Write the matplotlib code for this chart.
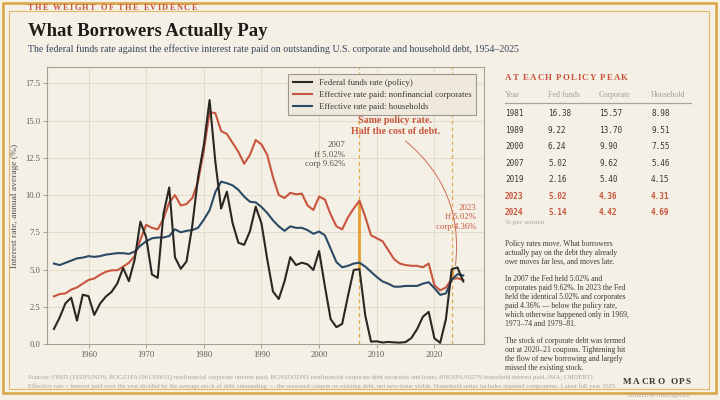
import matplotlib
matplotlib.use("Agg")
import matplotlib.pyplot as plt
from matplotlib.lines import Line2D
from matplotlib.patches import Rectangle

# ---------------- data ----------------
years = list(range(1954, 2026))
fed_funds = [1.01, 1.78, 2.73, 3.11, 1.57, 3.31, 3.21, 1.95, 2.71, 3.18,
             3.50, 4.07, 5.11, 4.22, 5.66, 8.21, 7.17, 4.67, 4.44, 8.74,
             10.51, 5.82, 5.05, 5.54, 7.94, 11.20, 13.35, 16.38, 12.24, 9.09,
             10.23, 8.10, 6.80, 6.66, 7.57, 9.22, 8.10, 5.69, 3.52, 3.02,
             4.21, 5.83, 5.30, 5.46, 5.35, 4.97, 6.24, 3.88, 1.67, 1.13,
             1.35, 3.22, 4.97, 5.02, 1.92, 0.16, 0.18, 0.10, 0.14, 0.11,
             0.09, 0.13, 0.40, 1.00, 1.83, 2.16, 0.38, 0.08, 1.68, 5.02,
             5.14, 4.20]
corporate = [3.20, 3.35, 3.40, 3.65, 3.80, 4.05, 4.30, 4.40, 4.65, 4.85,
             4.95, 4.95, 5.20, 5.45, 5.90, 7.00, 8.00, 7.80, 7.70, 8.40,
             9.50, 10.00, 9.30, 9.40, 9.80, 10.90, 13.00, 15.57, 15.50, 14.30,
             14.10, 13.50, 12.90, 12.10, 12.70, 13.70, 13.40, 12.70, 11.20, 10.00,
             9.80, 10.15, 10.05, 10.10, 9.30, 9.00, 9.90, 9.70, 8.70, 7.90,
             7.70, 8.50, 9.10, 9.62, 8.55, 7.30, 7.10, 6.90, 6.30, 5.70,
             5.40, 5.30, 5.25, 5.25, 5.15, 5.40, 3.95, 3.60, 3.80, 4.36,
             4.42, 4.30]
household = [5.40, 5.30, 5.45, 5.60, 5.75, 5.80, 5.90, 5.85, 5.90, 6.00,
             6.05, 6.10, 6.10, 6.05, 6.20, 6.60, 6.90, 7.10, 7.15, 7.15,
             7.25, 7.70, 7.50, 7.60, 7.65, 7.80, 8.35, 8.98, 10.20, 10.90,
             10.80, 10.65, 10.35, 9.90, 9.55, 9.51, 9.20, 8.80, 8.30, 7.90,
             7.60, 7.90, 7.80, 7.80, 7.65, 7.40, 7.55, 7.30, 6.40, 5.50,
             5.15, 5.25, 5.40, 5.46, 5.20, 4.85, 4.50, 4.20, 4.05, 3.85,
             3.85, 3.90, 3.90, 3.90, 4.05, 4.15, 3.75, 3.30, 3.40, 4.31,
             4.69, 4.60]

series_labels = ["Federal funds rate (policy)",
                 "Effective rate paid: nonfinancial corporates",
                 "Effective rate paid: households"]

peak_years = ["1981", "1989", "2000", "2007", "2019", "2023", "2024"]
peak_ff = ["16.38", "9.22", "6.24", "5.02", "2.16", "5.02", "5.14"]
peak_corp = ["15.57", "13.70", "9.90", "9.62", "5.40", "4.36", "4.42"]
peak_hh = ["8.98", "9.51", "7.55", "5.46", "4.15", "4.31", "4.69"]
table_headers = ["Year", "Fed funds", "Corporate", "Household"]

mark_2007 = 2007
mark_2023 = 2023

# ---------------- style ----------------
BG = "#f4f0e6"
GOLD = "#d9a441"
RED = "#c8553d"
BLUE = "#2b4a66"
BLACK = "#2a2622"
SERIF = ["Liberation Serif", "DejaVu Serif"]
MONO = ["DejaVu Sans Mono"]

plt.rcParams["font.family"] = SERIF

W, H = 720, 400
fig = plt.figure(figsize=(7.2, 4.0), dpi=100, facecolor=BG)

def fx(px):
    return px / W

def fy(py):
    return 1 - py / H

# borders
fig.patches.append(Rectangle((fx(3), fy(393)), fx(713), (393 - 3) / H,
                             transform=fig.transFigure, fill=False,
                             edgecolor=GOLD, lw=1.8, zorder=0))
fig.patches.append(Rectangle((fx(9), fy(388.5)), fx(700), (388.5 - 10.5) / H,
                             transform=fig.transFigure, fill=False,
                             edgecolor="#e3b868", lw=0.8, zorder=0))

renderer = fig.canvas.get_renderer()

def tracked(px0, px1, py, s, size, color, weight="bold", family=SERIF, box=False):
    # place characters so the string spans px0..px1
    chars = []
    widths = []
    for ch in s:
        if ch == " ":
            chars.append(None)
            widths.append(size * 0.25 * 100 / 72)
            continue
        t = fig.text(0, 0, ch, fontsize=size, color=color, weight=weight,
                     family=family, va="center", ha="left", zorder=5)
        widths.append(t.get_window_extent(renderer).width)
        chars.append(t)
    natural = sum(widths)
    gap = (px1 - px0 - natural) / max(len(s) - 1, 1)
    cur = px0
    for t, w in zip(chars, widths):
        if t is not None:
            t.set_position((fx(cur), fy(py)))
        cur += w + gap

tracked(28, 197, 7.8, "THE WEIGHT OF THE EVIDENCE", 6.0, RED)

fig.text(fx(28), fy(35.5), "What Borrowers Actually Pay", fontsize=13.4,
         weight="bold", color="#1f1c19", va="baseline")
fig.text(fx(28), fy(52.5), "The federal funds rate against the effective interest rate paid on "
         "outstanding U.S. corporate and household debt, 1954\u20132025",
         fontsize=7.1, color="#36435a", va="baseline")

# ---------------- main axes ----------------
ax = fig.add_axes([fx(47), fy(344), fx(484) - fx(47), fy(67) - fy(344)])
ax.set_facecolor(BG)

ax.plot(years, fed_funds, color=BLACK, lw=1.5, label=series_labels[0], zorder=5)
ax.plot(years, corporate, color=RED, lw=1.5, label=series_labels[1], zorder=4)
ax.plot(years, household, color=BLUE, lw=1.5, label=series_labels[2], zorder=4)

i07 = years.index(mark_2007)
i23 = years.index(mark_2023)
for yr in (mark_2007, mark_2023):
    ax.axvline(yr, color="#e2a84a", lw=0.9, ls=(0, (3, 2.5)), zorder=2)
ax.vlines(mark_2007, fed_funds[i07], corporate[i07], color="#e3a033", lw=2.0, zorder=3)
ax.vlines(mark_2023, corporate[i23], fed_funds[i23], color="#e3a033", lw=2.0, zorder=3)

ax.set_xlim(1952.8, 2028.6)
ax.set_ylim(0, 18.6)
ax.set_xticks([1960, 1970, 1980, 1990, 2000, 2010, 2020])
ax.set_yticks([0, 2.5, 5, 7.5, 10, 12.5, 15, 17.5])
ax.grid(True, color="#e3dccb", lw=0.7, zorder=0)
ax.set_axisbelow(True)
for sp in ax.spines.values():
    sp.set_color("#a7a194")
    sp.set_linewidth(0.8)
ax.tick_params(axis="both", labelsize=6.2, colors="#a7a194", labelcolor="#625d55",
               length=3, width=0.7, pad=2)
ax.set_ylabel("Interest rate, annual average (%)", fontsize=6.8, color="#55504a",
              labelpad=4)

leg = ax.legend(loc="upper right", fontsize=6.3, frameon=True, facecolor="#efe9dd",
                edgecolor="#9d978c", framealpha=1.0, fancybox=False,
                borderpad=0.5, handlelength=2.2, labelspacing=0.45,
                bbox_to_anchor=(0.992, 0.99))
leg.get_frame().set_linewidth(0.8)
for txt in leg.get_texts():
    txt.set_color("#3b3833")

ax.text(2004.5, 12.7, "2007\nff 5.02%\ncorp 9.62%", ha="right", va="center",
        fontsize=6.3, color="#55504a", linespacing=1.25)
ax.text(2027.2, 8.5, "2023\nff 5.02%\ncorp 4.36%", ha="right", va="center",
        fontsize=6.3, color=RED, linespacing=1.25)
ax.text(2013.2, 14.65, "Same policy rate.\nHalf the cost of debt.", ha="center",
        va="center", fontsize=7.2, color=RED, weight="bold", linespacing=1.2)
ax.annotate("", xy=(2023.6, 5.1), xytext=(2014.6, 13.75),
            arrowprops=dict(arrowstyle="-", color=RED, lw=0.7, alpha=0.85,
                            connectionstyle="arc3,rad=-0.28"), zorder=6)

# ---------------- right panel ----------------
tracked(505, 628, 78, "AT EACH POLICY PEAK", 6.4, RED)

col_x = [505, 548, 599, 651]
for cx, hdr in zip(col_x, table_headers):
    fig.text(fx(cx), fy(95), hdr, fontsize=5.8, color="#a39d92", va="center")
fig.add_artist(Line2D([fx(505), fx(691)], [fy(102.5), fy(102.5)],
                      color="#aaa498", lw=0.9, transform=fig.transFigure))

row_y0, row_dy = 114, 16.45
for i, (yr, a, b, c) in enumerate(zip(peak_years, peak_ff, peak_corp, peak_hh)):
    hl = yr in ("2023", "2024")
    col = RED if hl else "#3a3733"
    wt = "bold" if hl else "normal"
    py = row_y0 + i * row_dy
    for cx, val in zip(col_x, (yr, a, b, c)):
        fig.text(fx(cx), fy(py), val, fontsize=5.6, family=MONO, color=col,
                 weight=wt, va="center")
fig.text(fx(505), fy(222.5), "% per annum", fontsize=5.2, style="italic",
         color="#aaa498", va="center")

paras = [
    (["Policy rates move. What borrowers",
      "actually pay on the debt they already",
      "owe moves far less, and moves late."], 244.3),
    (["In 2007 the Fed held 5.02% and",
      "corporates paid 9.62%. In 2023 the Fed",
      "held the identical 5.02% and corporates",
      "paid 4.36% \u2014 below the policy rate,",
      "which otherwise happened only in 1969,",
      "1973\u201374 and 1979\u201381."], 279.3),
    (["The stock of corporate debt was termed",
      "out at 2020\u201321 coupons. Tightening hit",
      "the flow of new borrowing and largely",
      "missed the existing stock."], 340.7),
]
for lines, py0 in paras:
    for k, line in enumerate(lines):
        fig.text(fx(505), fy(py0 + k * 9.0), line, fontsize=5.5, color="#3d3a35",
                 va="center")

# ---------------- footer ----------------
fig.text(fx(28), fy(377), "Sources: FRED (FEDFUNDS; BOGZ1FA106130001Q nonfinancial corporate "
         "interest paid; BCNSDODNS nonfinancial corporate debt securities and loans; "
         "HNOIPAA027N household interest paid, IMA; CMDEBT).",
         fontsize=4.7, color="#aaa498", va="center")
fig.text(fx(28), fy(385.7), "Effective rate = interest paid over the year divided by the average "
         "stock of debt outstanding \u2014 the seasoned coupon on existing debt, not new-issue "
         "yields. Household series includes imputed components. Latest full year 2025.",
         fontsize=4.7, color="#aaa498", va="center")

tracked(623, 691, 381.7, "MACRO OPS", 6.6, "#3a3530")
fig.text(fx(690), fy(396), "collective intelligence", fontsize=5.0, style="italic",
         color="#aaa498", ha="right", va="center")

fig.savefig("out.png", dpi=100, facecolor=BG)
